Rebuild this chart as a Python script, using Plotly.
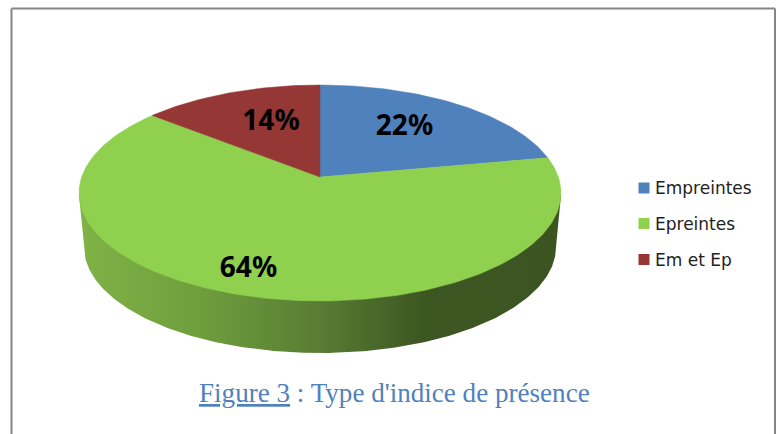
import numpy as np
import plotly.graph_objects as go

# ---- data ----
categories = ["Empreintes", "Epreintes", "Em et Ep"]
values = [22, 64, 14]
labels = ["22%", "64%", "14%"]
caption_link = "Figure 3"
caption_rest = " : Type d'indice de présence"

# ---- style / geometry (pixel space of the 781x434 page) ----
W, H = 781, 434
colors = ["#4F81BD", "#8FD14F", "#953735"]
CX, CY, A, B = 320.0, 193.0, 241.0, 108.0      # top face ellipse
BCY, BA, BB = 247.0, 236.0, 106.0              # bottom rim ellipse
APEX_RISE = 16.0                               # perspective shift of pie centre
K = APEX_RISE / B
BLUE = "#4F81BD"


def rim(theta):
    """Clockwise angle from 12 o'clock on the pie -> page pixel, with perspective."""
    u, v = np.sin(theta), np.cos(theta)
    d = 1 + K * v
    return CX + A * np.sqrt(1 - K * K) * u / d, CY - B * (v + K) / d


fig = go.Figure()

# side wall with horizontal gradient
phi = np.linspace(np.pi, 0, 200)
wall_x = np.concatenate([[CX - A], CX + BA * np.cos(phi), [CX + A]])
wall_y = np.concatenate([[CY + 2], BCY + BB * np.sin(phi), [CY + 2]])
fig.add_trace(go.Scatter(
    x=wall_x, y=wall_y, mode="lines", fill="toself", line=dict(width=0),
    hoverinfo="skip", showlegend=False,
    fillgradient=dict(
        type="horizontal",
        colorscale=[[0.0, "#7FB346"], [0.25, "#6F9E3D"], [0.5, "#587C33"],
                    [0.72, "#3C5621"], [1.0, "#3C5422"]],
    ),
))

# top face wedges, from the values
edges = np.cumsum([0] + values) / sum(values) * 2 * np.pi
apex_x, apex_y = CX, CY - APEX_RISE
for cat, col, a0, a1 in zip(categories, colors, edges[:-1], edges[1:]):
    t = np.linspace(a0, a1, max(int((a1 - a0) * 60), 8))
    rx, ry = rim(t)
    fig.add_trace(go.Scatter(
        x=np.r_[apex_x, rx, apex_x], y=np.r_[apex_y, ry, apex_y],
        mode="lines", fill="toself", fillcolor=col, line=dict(width=0.5, color=col),
        name=cat, showlegend=False, hoverinfo="name",
    ))

# percentage labels
label_x = [404.5, 248.5, 271.0]
label_y = [128.0, 270.0, 123.0]
fig.add_trace(go.Scatter(
    x=label_x, y=label_y, mode="text", text=labels,
    textfont=dict(family="Noto Sans", size=28, color="black", weight="bold"),
    showlegend=False, hoverinfo="skip",
))

# legend keys
key_x = [644.0] * 3
key_y = [188.0, 223.5, 259.5]
fig.add_trace(go.Scatter(
    x=key_x, y=key_y, mode="markers", showlegend=False, hoverinfo="skip",
    marker=dict(symbol="square", size=11, color=colors, line=dict(width=0)),
))
for cat, y in zip(categories, key_y):
    fig.add_annotation(x=653, y=y, text=cat, showarrow=False, xanchor="left", yanchor="middle",
                       font=dict(family="DejaVu Sans", size=17, color="#222222"))

# caption
fig.add_annotation(x=394.5, y=393, showarrow=False, xanchor="center", yanchor="middle",
                   text=f"<u>{caption_link}</u>{caption_rest}",
                   font=dict(family="Liberation Serif", size=27.1, color=BLUE))

frame = dict(color="#868686", width=2)
fig.add_shape(type="line", x0=11.5, x1=11.5, y0=434, y1=8.5, line=frame)
fig.add_shape(type="line", x0=11.5, x1=775, y0=8.5, y1=8.5, line=frame)
fig.add_shape(type="line", x0=775, x1=775, y0=8.5, y1=434, line=frame)

fig.update_layout(
    width=W, height=H, margin=dict(l=0, r=0, t=0, b=0),
    paper_bgcolor="white", plot_bgcolor="white", showlegend=False,
    xaxis=dict(range=[0, W], visible=False, fixedrange=True),
    yaxis=dict(range=[H, 0], visible=False, fixedrange=True),
)
fig.write_html("out.html", config={"displayModeBar": False},
               post_script="document.body.style.margin='0';")
